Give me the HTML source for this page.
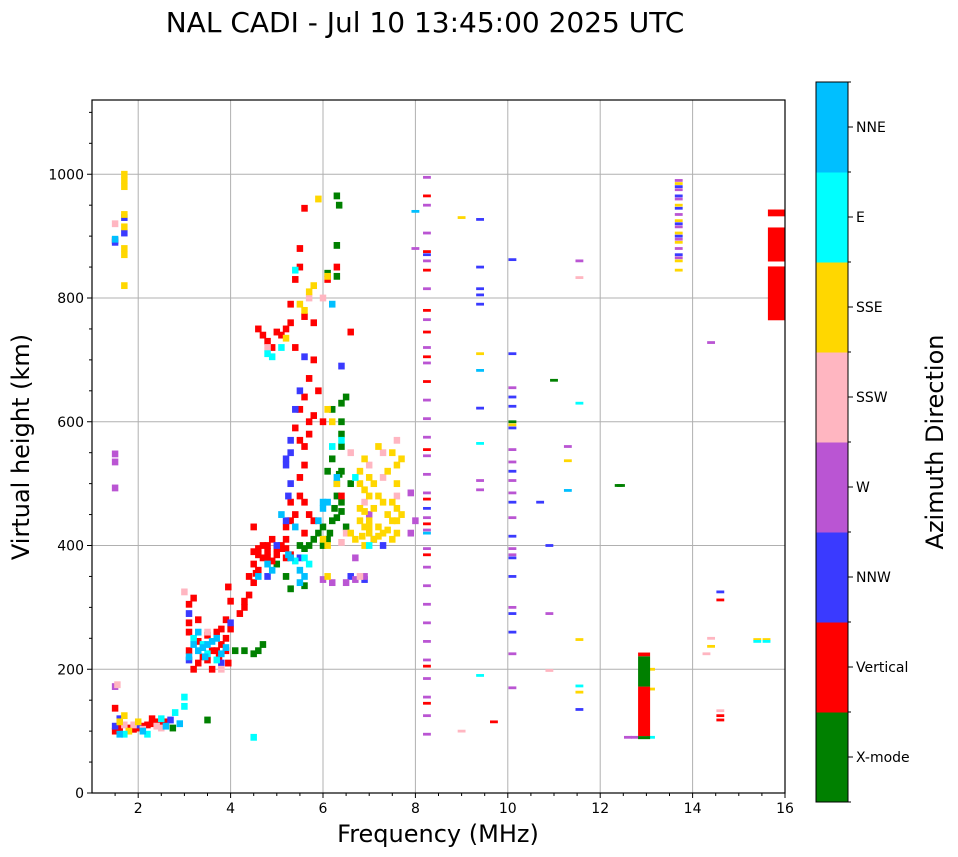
<!DOCTYPE html>
<html><head><meta charset="utf-8"><style>
body{margin:0;background:#fff;}
svg{display:block;font-family:"DejaVu Sans","Liberation Sans",sans-serif;}
</style></head><body>
<svg id="chart" width="958" height="857" viewBox="0 0 958 857">
<text x="425" y="32" font-size="28" text-anchor="middle">NAL CADI - Jul 10 13:45:00 2025 UTC</text>
<g id="grid"></g>
<g id="marks"></g>
<rect x="92" y="100" width="693" height="693" fill="none" stroke="#000" stroke-width="1.2"/>
<g id="axes"></g>
<text x="438" y="842" font-size="24" text-anchor="middle">Frequency (MHz)</text>
<text transform="translate(29,447) rotate(-90)" font-size="24" text-anchor="middle">Virtual height (km)</text>
<g id="cbar"></g>
<text transform="translate(943,442) rotate(-90)" font-size="24" text-anchor="middle">Azimuth Direction</text>
</svg>
<script>
const NS="http://www.w3.org/2000/svg";
const directions=["X-mode","Vertical","NNW","W","SSW","SSE","E","NNE"];
const dirColors=["#008000","#ff0000","#3a3aff","#ba55d3","#ffb6c1","#ffd700","#00ffff","#00bfff"];
const xTicks=[2,4,6,8,10,12,14,16];
const yTicks=[0,200,400,600,800,1000];
// dense echoes [freq MHz, height km]
const greenPts=[[2.75,105],[3.5,118],[4.1,230],[4.3,230],[4.5,225],[4.6,230],[4.7,240],[5.0,370],[5.2,350],[5.3,330],[5.5,400],[5.6,395],[5.7,400],[5.8,410],[5.9,420],[6.0,430],[6.2,440],[6.3,445],[6.0,400],[6.3,480],[6.3,500],[6.4,520],[6.6,500],[6.4,560],[6.4,580],[6.4,600],[6.5,430],[6.2,540],[6.2,620],[6.5,640],[6.3,965],[6.35,950],[6.3,885],[6.3,835],[6.1,840],[6.4,470],[6.25,460],[6.4,455],[6.1,410],[6.15,420],[6.35,515],[6.1,520],[5.6,335],[6.4,630]];
const redPts=[[1.5,100],[1.5,137],[1.6,105],[1.8,105],[1.9,103],[2.0,105],[2.1,108],[2.2,110],[2.3,112],[2.4,115],[2.5,113],[2.6,115],[2.3,120],[1.5,893],
[3.1,230],[3.1,260],[3.1,275],[3.2,200],[3.3,210],[3.4,220],[3.5,215],[3.6,200],[3.7,230],[3.8,240],[3.9,250],[3.95,210],[3.8,265],[3.9,280],[3.95,333],[3.5,255],[3.3,280],[3.2,315],[3.1,305],[3.3,245],[3.6,230],[3.7,260],[4.0,265],[3.9,230],[3.75,220],
[4.0,310],[4.2,290],[4.3,300],[4.4,320],[4.5,340],[4.5,370],[4.5,390],[4.6,360],[4.7,380],[4.8,390],[4.9,375],[5.0,385],[5.1,395],[5.2,380],[5.3,385],[5.1,400],[4.6,395],[4.5,430],[4.7,400],[4.9,410],[5.2,410],[4.3,310],[4.4,350],[4.8,400],[5.0,395],[4.6,385],[4.8,380],[5.2,395],[4.55,355],
[5.2,430],[5.3,440],[5.3,470],[5.4,450],[5.5,480],[5.5,510],[5.6,530],[5.6,560],[5.7,580],[5.4,590],[5.5,620],[5.6,640],[5.7,600],[5.8,610],[5.9,650],[5.7,670],[5.8,700],[6.0,600],[5.6,470],[5.7,450],[6.4,480],[6.6,745],[5.6,420],[5.8,440],[5.5,570],
[4.6,750],[4.7,740],[4.8,730],[4.9,720],[5.0,745],[5.1,740],[5.2,750],[5.3,760],[5.3,790],[5.4,830],[5.5,850],[5.5,880],[5.6,945],[5.8,760],[6.1,830],[6.3,850],[5.4,720],[5.6,770]];
const bluePts=[[1.5,108],[1.6,120],[2.0,110],[2.7,118],[1.7,930],[1.7,905],[1.5,890],[3.1,215],[3.1,290],[4.0,275],[3.8,210],[5.0,400],[5.5,380],[4.8,350],[5.2,440],[5.3,500],[5.2,530],[5.3,570],[5.4,620],[5.5,650],[5.2,540],[6.4,690],[7.1,410],[6.9,345],[7.3,400],[5.6,705],[5.3,550],[5.25,480],[6.6,350]];
const orchidPts=[[1.5,548],[1.5,535],[1.5,493],[1.5,172],[6.2,340],[6.9,350],[7.0,450],[6.7,380],[7.9,420],[7.9,485],[8.0,440],[6.5,340],[6.0,345],[6.7,345]];
const pinkPts=[[1.7,110],[1.9,110],[2.1,103],[2.4,108],[2.5,105],[1.5,920],[1.55,175],[3.5,260],[3.0,325],[3.8,200],[6.5,420],[6.6,550],[7.0,530],[7.3,510],[7.6,570],[6.8,350],[7.3,550],[4.8,720],[5.7,800],[6.0,800],[6.9,470],[7.6,480],[6.4,405]];
const goldPts=[[1.6,115],[1.7,125],[1.8,100],[2.0,115],[1.7,1000],[1.7,990],[1.7,980],[1.7,935],[1.7,915],[1.7,880],[1.7,870],[1.7,820],
[6.1,620],[6.2,600],[6.6,420],[6.8,440],[6.9,430],[7.0,420],[7.1,410],[7.2,430],[7.3,420],[7.4,450],[7.5,470],[7.6,500],[7.7,540],[7.5,550],[7.2,560],[6.9,490],[6.8,520],[6.9,540],[7.0,480],[7.3,470],[7.4,520],[7.6,420],[7.7,450],[6.1,350],[6.0,410],[6.3,500],[6.1,400],[6.7,410],[7.1,460],[7.5,440],[6.9,400],[6.85,415],[7.0,440],[7.2,415],[7.4,425],[7.5,410],[7.6,440],[6.8,500],[7.0,510],[7.1,500],[7.6,530],[7.6,460],[7.0,430],[6.9,455],[7.2,480],[6.8,460],
[5.2,735],[5.6,780],[5.7,810],[5.9,960],[5.8,820],[6.1,835],[5.5,790]];
const cyanPts=[[1.7,95],[2.2,95],[2.5,120],[2.8,130],[3.0,140],[3.0,155],[3.5,225],[3.7,215],[3.2,250],[5.4,375],[5.6,380],[4.5,90],[5.7,370],[6.2,560],[6.4,570],[6.7,510],[7.0,400],[4.8,710],[4.9,705],[5.1,720],[5.4,845],[3.4,240]];
const skyPts=[[1.6,95],[2.1,100],[2.6,108],[2.9,112],[1.5,895],[3.2,240],[3.3,230],[3.4,235],[3.5,240],[3.6,245],[3.7,250],[3.8,225],[3.9,235],[3.3,260],[3.1,220],[4.6,350],[4.8,370],[4.9,360],[5.3,380],[5.5,360],[5.5,340],[5.6,350],[5.1,450],[5.4,430],[6.0,460],[6.1,470],[5.9,440],[6.2,790],[6.0,470],[6.3,510],[3.45,220],[5.25,385]];
// sparse thin traces [freq MHz, height km]
const greenThin=[[10.1,600],[11.0,667],[12.4,497],[12.45,497]];
const redThin=[[8.25,965],[8.25,875],[8.25,845],[8.25,780],[8.25,745],[8.25,705],[8.25,665],[8.25,555],[8.25,475],[8.25,435],[8.25,385],[8.25,205],[8.25,145],[9.7,115],[14.6,312],[14.6,125],[14.6,118]];
const blueThin=[[8.25,870],[8.25,460],[10.1,862],[10.1,710],[10.1,640],[10.1,625],[10.1,590],[10.1,520],[10.1,470],[10.1,415],[10.1,380],[10.1,350],[10.1,290],[10.1,260],[9.4,927],[9.4,815],[9.4,805],[9.4,790],[9.4,622],[9.4,850],[10.7,470],[10.9,400],[11.55,135],[13.7,980],[13.7,965],[13.7,945],[13.7,920],[13.7,900],[13.7,870],[14.6,325]];
const orchidThin=[[8.25,995],[8.25,950],[8.25,905],[8.25,860],[8.25,815],[8.25,765],[8.25,720],[8.25,695],[8.25,635],[8.25,605],[8.25,575],[8.25,545],[8.25,515],[8.25,485],[8.25,445],[8.25,425],[8.25,395],[8.25,365],[8.25,335],[8.25,305],[8.25,275],[8.25,245],[8.25,215],[8.25,185],[8.25,155],[8.25,125],[8.25,95],[8.0,880],[10.1,655],[10.1,555],[10.1,535],[10.1,505],[10.1,485],[10.1,445],[10.1,395],[10.1,385],[10.1,300],[10.1,225],[10.1,170],[9.4,505],[9.4,490],[10.9,290],[11.3,560],[11.55,860],[13.7,990],[13.7,975],[13.7,960],[13.7,935],[13.7,915],[13.7,895],[13.7,880],[13.7,865],[14.4,728],[12.6,90],[12.75,90]];
const pinkThin=[[9.0,100],[10.9,198],[11.55,833],[14.3,225],[14.4,250],[14.6,133]];
const goldThin=[[9.0,930],[9.4,710],[10.1,595],[11.3,537],[11.55,248],[11.55,163],[13.7,985],[13.7,950],[13.7,925],[13.7,905],[13.7,890],[13.7,860],[13.7,845],[14.4,237],[13.1,200],[13.1,168],[15.4,248],[15.6,248]];
const cyanThin=[[9.4,565],[9.4,190],[11.55,630],[11.55,173],[13.1,90],[15.4,245],[15.6,245]];
const skyThin=[[8.25,420],[8.0,940],[9.4,683],[11.3,489]];
// solid blocks [fStart,fEnd,hStart,hEnd,colorIndex]
const blocks=[[12.82,13.08,87,92,0],[12.82,13.08,92,172,1],[12.82,13.08,172,221,0],[12.82,13.08,221,227,1],[15.63,16,932,943,1],[15.63,16,859,914,1],[15.63,16,764,851,1]];

const X0=92,X1=785,Y0=793,Y1=100,FMIN=1,FMAX=16,HMIN=0,HMAX=1120;
const xs=f=>X0+(f-FMIN)/(FMAX-FMIN)*(X1-X0);
const ys=h=>Y0-(h-HMIN)/(HMAX-HMIN)*(Y0-Y1);
function mk(tag,attrs,parent){const e=document.createElementNS(NS,tag);for(const k in attrs)e.setAttribute(k,attrs[k]);parent.appendChild(e);return e;}
const grid=document.getElementById('grid'),marks=document.getElementById('marks'),axes=document.getElementById('axes'),cbar=document.getElementById('cbar');
xTicks.forEach(t=>{const l=mk('line',{x1:xs(t),x2:xs(t),y1:Y1,y2:Y0,stroke:'#b0b0b0','stroke-width':1},grid);


const tk=mk('line',{x1:xs(t),x2:xs(t),y1:Y0,y2:Y0+5,stroke:'#000'},axes);


const tx=mk('text',{x:xs(t),y:Y0+20,'font-size':14,'text-anchor':'middle'},axes);tx.textContent=t;

});
for(let f=1.5;f<16;f+=0.5){if(xTicks.includes(f))continue;const m=mk('line',{x1:xs(f),x2:xs(f),y1:Y0,y2:Y0+3,stroke:'#000'},axes);

}
yTicks.forEach(t=>{const l=mk('line',{x1:X0,x2:X1,y1:ys(t),y2:ys(t),stroke:'#b0b0b0','stroke-width':1},grid);


const tk=mk('line',{x1:X0-5,x2:X0,y1:ys(t),y2:ys(t),stroke:'#000'},axes);


const tx=mk('text',{x:X0-8,y:ys(t)+5,'font-size':14,'text-anchor':'end'},axes);tx.textContent=t;

});
for(let h=50;h<1120;h+=50){if(yTicks.includes(h))continue;const m=mk('line',{x1:X0-3,x2:X0,y1:ys(h),y2:ys(h),stroke:'#000'},axes);

}
function drawSet(arr,ci,fw,hh){arr.forEach(p=>{const x=xs(p[0]-fw/2),w=xs(p[0]+fw/2)-x,y=ys(p[1]+hh/2),h=ys(p[1]-hh/2)-y;
const r=mk('rect',{x:x,y:y,width:w,height:h,fill:dirColors[ci]},marks);

});}
const dense=[greenPts,redPts,bluePts,orchidPts,pinkPts,goldPts,cyanPts,skyPts];
const thin=[greenThin,redThin,blueThin,orchidThin,pinkThin,goldThin,cyanThin,skyThin];
thin.forEach((a,i)=>drawSet(a,i,0.17,4.5));
dense.forEach((a,i)=>drawSet(a,i,0.14,11));
blocks.forEach(b=>{const x=xs(b[0]),y=ys(b[3]);
const r=mk('rect',{x:x,y:y,width:xs(b[1])-x,height:ys(b[2])-y,fill:dirColors[b[4]]},marks);

});
// colorbar
const CX=816,CW=32,CT=82,CB=802,bh=(CB-CT)/directions.length;
directions.forEach((d,i)=>{const y=CB-(i+1)*bh;
const r=mk('rect',{x:CX,y:y,width:CW,height:bh+0.5,fill:dirColors[i]},cbar);


const tk=mk('line',{x1:CX+CW,x2:CX+CW+5,y1:y+bh/2,y2:y+bh/2,stroke:'#000'},cbar);


const tx=mk('text',{x:CX+CW+8,y:y+bh/2+5,'font-size':14},cbar);tx.textContent=d;

});
for(let i=0;i<=directions.length;i++){const y=CT+i*bh;const m=mk('line',{x1:CX+CW,x2:CX+CW+3,y1:y,y2:y,stroke:'#000'},cbar);

}
const fr=mk('rect',{x:CX,y:CT,width:CW,height:CB-CT,fill:'none',stroke:'#000'},cbar);


</script>
</body></html>
